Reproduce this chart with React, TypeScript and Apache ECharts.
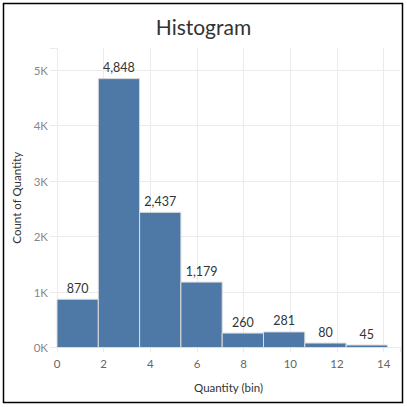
import { useEffect, useRef } from "react";
import * as echarts from "echarts";

// Tableau-style histogram: 8 bins of width 1.77
const binStarts = [0, 1.77, 3.54, 5.31, 7.08, 8.85, 10.62, 12.39];
const binWidth = 1.77;
const counts = [870, 4848, 2437, 1179, 260, 281, 80, 45];
const xGrid = [2, 4, 6, 8, 10, 12, 14];
const yGrid = [1000, 2000, 3000, 4000, 5000];

const FONT = "Lato, 'Open Sans', sans-serif";
const GRID_COLOR = "#ebebeb";

export default function App() {
    const chartRef = useRef<HTMLDivElement | null>(null);

    useEffect(() => {
        document.body.style.margin = "0";
        if (!chartRef.current) return;
        const chart = echarts.init(chartRef.current, undefined, { renderer: "svg" });

        const option: echarts.EChartsOption = {
            animation: false,
            backgroundColor: "#fff",
            textStyle: { fontFamily: FONT },
            title: {
                text: "Histogram",
                left: "center",
                top: 11,
                textStyle: { fontSize: 21, fontWeight: "normal", color: "#333", fontFamily: FONT },
            },
            grid: { left: 57, right: 7, top: 48, bottom: 59.5 },
            xAxis: {
                type: "value",
                min: 0,
                max: 14.7,
                interval: 2,
                name: "Quantity (bin)",
                nameLocation: "middle",
                nameGap: 34,
                nameTextStyle: { fontSize: 11.5, color: "#333" },
                axisLine: { show: true, lineStyle: { color: GRID_COLOR } },
                axisTick: { show: true, length: 5, lineStyle: { color: GRID_COLOR } },
                axisLabel: {
                    fontSize: 11.5,
                    color: "#666",
                    margin: 10,
                    formatter: (v: number) => (v % 2 === 0 ? String(v) : ""),
                },
                splitLine: { show: false },
            },
            yAxis: {
                type: "value",
                min: 0,
                max: 5400,
                interval: 1000,
                name: "Count of Quantity",
                nameLocation: "middle",
                nameGap: 29,
                nameTextStyle: { fontSize: 11.5, color: "#333" },
                axisLine: { show: true, lineStyle: { color: GRID_COLOR } },
                axisTick: { show: true, length: 7, lineStyle: { color: GRID_COLOR } },
                axisLabel: {
                    fontSize: 11.5,
                    color: "#888",
                    margin: 9,
                    formatter: (v: number) => (v % 1000 === 0 ? v / 1000 + "K" : ""),
                },
                splitLine: { show: false },
            },
            graphic: [
                {
                    type: "rect",
                    shape: { x: 3.5, y: 3.5, width: 399, height: 399 },
                    style: { fill: "none", stroke: "#000", lineWidth: 1.5 },
                    silent: true,
                },
            ],
            series: [
                {
                    type: "line",
                    data: [],
                    z: 1,
                    markLine: {
                        silent: true,
                        symbol: "none",
                        z: 1,
                        label: { show: false },
                        lineStyle: { color: GRID_COLOR, type: "solid", width: 1 },
                        data: [
                            ...yGrid.map((v) => ({ yAxis: v })),
                            ...xGrid.map((v) => ({ xAxis: v })),
                        ],
                    },
                },
                {
                    type: "custom",
                    z: 3,
                    data: binStarts.map((s, i) => [s, s + binWidth, counts[i]]),
                    encode: { x: [0, 1], y: 2 },
                    renderItem: (params: any, api: any) => {
                        const start = api.coord([api.value(0), api.value(2)]);
                        const end = api.coord([api.value(1), 0]);
                        return {
                            type: "rect",
                            shape: {
                                x: start[0],
                                y: start[1],
                                width: end[0] - start[0],
                                height: end[1] - start[1],
                            },
                            style: { fill: "#4e79a7", stroke: "#dcdcdc", lineWidth: 1 },
                            textContent: {
                                style: {
                                    text: api.value(2).toLocaleString("en-US"),
                                    fontSize: 12.5,
                                    fill: "#333",
                                    fontFamily: FONT,
                                },
                            },
                            textConfig: { position: "top", distance: 4 },
                        };
                    },
                },
            ],
        };

        chart.setOption(option);

        return () => {
            chart.dispose();
        };
    }, []);

    return <div ref={chartRef} style={{ width: "407px", height: "407px" }} />;
}
